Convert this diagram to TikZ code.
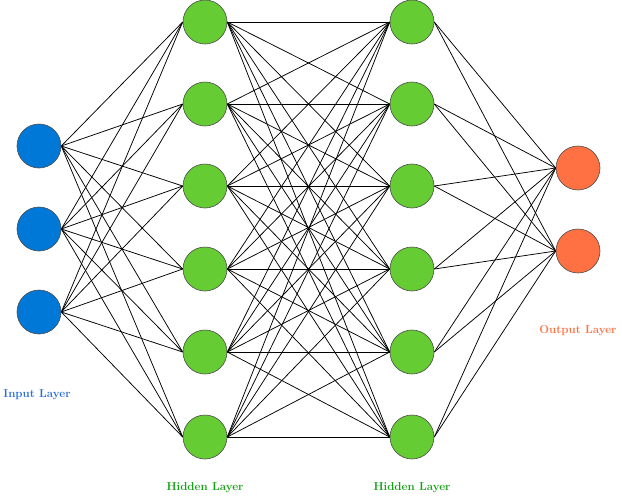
\documentclass[tikz,border=0pt]{standalone}
\begin{document}
\begin{tikzpicture}[x=1pt,y=-1pt,
  neuron/.style={circle,draw=black!70,line width=0.6pt,minimum size=44pt,inner sep=0pt},
  inp/.style={neuron,fill={rgb,255:red,0;green,120;blue,215}},
  hid/.style={neuron,fill={rgb,255:red,102;green,204;blue,51}},
  outp/.style={neuron,fill={rgb,255:red,255;green,112;blue,67}},
  lab/.style={font=\bfseries\fontsize{11.5}{13}\selectfont},
  edge/.style={black,line width=0.75pt}]
\useasboundingbox (0,0) rectangle (622,496);
\foreach \i/\y in {1/146,2/229,3/312} \node[inp] (i\i) at (39,\y) {};
\foreach \i/\y in {1/22,2/104,3/186,4/269,5/352,6/437} {
  \node[hid] (a\i) at (205,\y) {};
  \node[hid] (b\i) at (412,\y) {};
}
\foreach \i/\y in {1/168,2/251} \node[outp] (o\i) at (578,\y) {};
\foreach \i in {1,2,3} \foreach \j in {1,...,6} \draw[edge] (i\i.east) -- (a\j.west);
\foreach \i in {1,...,6} \foreach \j in {1,...,6} \draw[edge] (a\i.east) -- (b\j.west);
\foreach \i in {1,...,6} \foreach \j in {1,2} \draw[edge] (b\i.east) -- (o\j.west);
\node[lab,text={rgb,255:red,40;green,110;blue,220}] (li) at (37,395) {Input Layer};
\node[lab,text={rgb,255:red,20;green,160;blue,20}] (lh1) at (205,488) {Hidden Layer};
\node[lab,text={rgb,255:red,20;green,160;blue,20}] (lh2) at (412,488) {Hidden Layer};
\node[lab,text={rgb,255:red,255;green,112;blue,67}] (lo) at (578,331) {Output Layer};
\end{tikzpicture}
\end{document}
